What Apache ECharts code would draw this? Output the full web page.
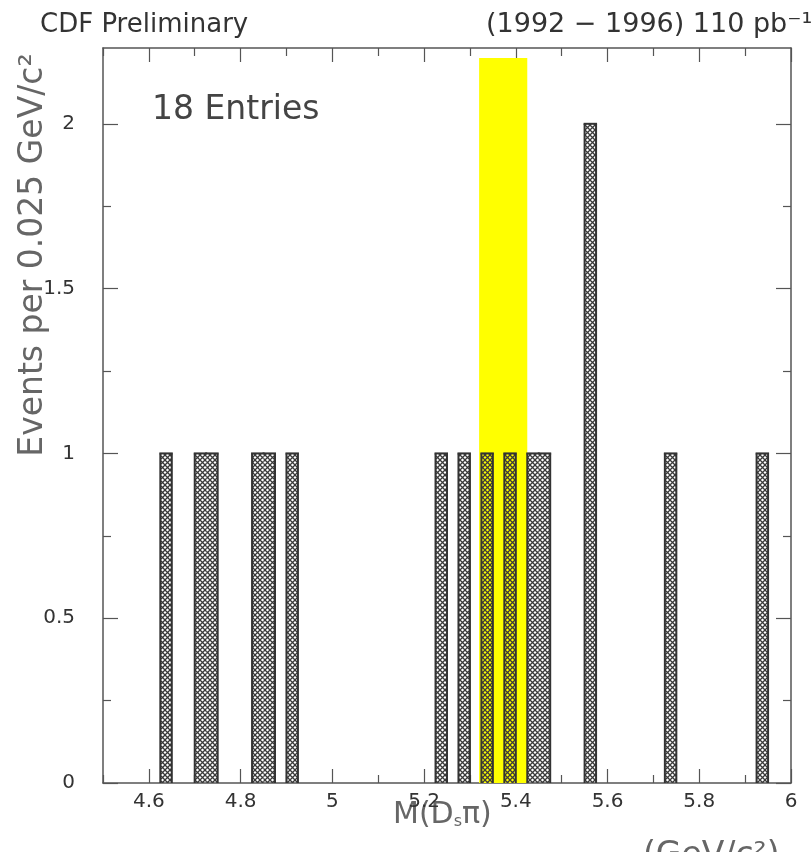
<!DOCTYPE html>
<html>
<head>
<meta charset="utf-8">
<script src="https://cdn.jsdelivr.net/npm/echarts@6/dist/echarts.min.js"></script>
<style>
  html, body { margin: 0; padding: 0; background: #fff; }
  #chart { width: 811px; height: 852px; }
</style>
</head>
<body>
<div id="chart"></div>
<script>
// --- data ---
const binWidth = 0.025;
const binLow = [4.625, 4.700, 4.725, 4.825, 4.850, 4.900, 5.225, 5.275, 5.325, 5.375, 5.425, 5.450, 5.550, 5.725, 5.925];
const counts = [1, 1, 1, 1, 1, 1, 1, 1, 1, 1, 1, 1, 2, 1, 1];
const signalWindow = [5.32, 5.425];   // yellow band
const signalTop = 2.2;

const xMajor = [4.6, 4.8, 5.0, 5.2, 5.4, 5.6, 5.8, 6.0];
const xMinor = [4.5, 4.7, 4.9, 5.1, 5.3, 5.5, 5.7, 5.9];
const yMajor = [0, 0.5, 1, 1.5, 2];
const yMinor = [0.25, 0.75, 1.25, 1.75];

const FONT = '"DejaVu Sans", sans-serif';

// cross-hatch pattern (transparent background so the yellow band shows through)
function makeHatch() {
    const s = 5;
    const c = document.createElement('canvas');
    c.width = s; c.height = s;
    const ctx = c.getContext('2d');
    ctx.strokeStyle = '#3a3a3a';
    ctx.lineWidth = 1.3;
    ctx.beginPath();
    ctx.moveTo(-1, -1); ctx.lineTo(s + 1, s + 1);
    ctx.moveTo(-1, s + 1); ctx.lineTo(s + 1, -1);
    ctx.stroke();
    return c;
}
const hatch = makeHatch();

// lookup for neighbour bins (outline drawn like a histogram, not per bin)
const countByBin = {};
binLow.forEach((lo, i) => { countByBin[Math.round(lo / binWidth)] = counts[i]; });
function countAt(x) { return countByBin[Math.round(x / binWidth)] || 0; }

const histData = binLow.map((lo, i) => [lo, counts[i]]);

function fmt(v) { return String(+v.toFixed(1)); }

const chart = echarts.init(document.getElementById('chart'));

const axisLineStyle = { color: '#555', width: 1.5 };
function xAxisDef(pos, ticks, len, showLine, showLabel) {
    return {
        type: 'value', position: pos, min: 4.5, max: 6,
        axisLine: { show: showLine, onZero: false, lineStyle: axisLineStyle },
        axisTick: { show: true, inside: true, length: len, customValues: ticks, lineStyle: { color: '#555', width: 1.2 } },
        axisLabel: showLabel ? { show: true, customValues: ticks, formatter: fmt, margin: 9, fontSize: 20, fontFamily: FONT, color: '#333' } : { show: false },
        splitLine: { show: false }
    };
}
function yAxisDef(pos, ticks, len, showLine, showLabel) {
    return {
        type: 'value', position: pos, min: 0, max: 2.23,
        axisLine: { show: showLine, onZero: false, lineStyle: axisLineStyle },
        axisTick: { show: true, inside: true, length: len, customValues: ticks, lineStyle: { color: '#555', width: 1.2 } },
        axisLabel: showLabel ? { show: true, customValues: ticks, formatter: v => String(v), margin: 28, fontSize: 20, fontFamily: FONT, color: '#333' } : { show: false },
        splitLine: { show: false }
    };
}

chart.setOption({
    animation: false,
    backgroundColor: '#fff',
    grid: { left: 103, right: 20, top: 48, bottom: 69 },
    xAxis: [
        xAxisDef('bottom', xMajor, 14, true, true),
        xAxisDef('bottom', xMinor, 8, false, false),
        xAxisDef('top', xMajor, 14, true, false),
        xAxisDef('top', xMinor, 8, false, false)
    ],
    yAxis: [
        yAxisDef('left', yMajor, 15, true, true),
        yAxisDef('left', yMinor, 8, false, false),
        yAxisDef('right', yMajor, 15, true, false),
        yAxisDef('right', yMinor, 8, false, false)
    ],
    series: [
        {
            // signal window
            type: 'custom', z: 1,
            data: [[signalWindow[0], signalWindow[1], signalTop]],
            renderItem: function (params, api) {
                const a = api.coord([api.value(0), 0]);
                const b = api.coord([api.value(1), api.value(2)]);
                return { type: 'rect', shape: { x: a[0], y: b[1], width: b[0] - a[0], height: a[1] - b[1] }, style: { fill: '#ffff00' } };
            }
        },
        {
            type: 'custom', z: 2,
            data: histData,
            renderItem: function (params, api) {
                const lo = api.value(0), n = api.value(1), hi = lo + binWidth;
                const p0 = api.coord([lo, 0]);
                const p1 = api.coord([hi, n]);
                const prev = countAt(lo - binWidth), next = countAt(hi);
                const lineStyle = { stroke: '#333', lineWidth: 2, fill: null };
                const kids = [
                    { type: 'rect', shape: { x: p0[0], y: p1[1], width: p1[0] - p0[0], height: p0[1] - p1[1] },
                      style: { fill: { image: hatch, repeat: 'repeat' } } },
                    { type: 'line', shape: { x1: p0[0] - 1, y1: p1[1], x2: p1[0] + 1, y2: p1[1] }, style: lineStyle }
                ];
                if (n > prev) {
                    const yp = api.coord([lo, prev])[1];
                    kids.push({ type: 'line', shape: { x1: p0[0], y1: yp, x2: p0[0], y2: p1[1] }, style: lineStyle });
                }
                if (n > next) {
                    const yn = api.coord([hi, next])[1];
                    kids.push({ type: 'line', shape: { x1: p1[0], y1: yn, x2: p1[0], y2: p1[1] }, style: lineStyle });
                }
                return { type: 'group', children: kids };
            }
        }
    ],
    graphic: [
        { type: 'text', left: 40, top: 12, style: { text: 'CDF Preliminary', font: '26px ' + FONT, fill: '#333' } },
        { type: 'text', left: 486, top: 11, style: { text: '(1992 − 1996) 110 pb⁻¹', font: '27px ' + FONT, fill: '#333' } },
        { type: 'text', left: 152, top: 94, style: { text: '18 Entries', font: '33px ' + FONT, fill: '#444' } },
        { type: 'text', x: 33, y: 255, rotation: Math.PI / 2,
          style: { text: 'Events per 0.025 GeV/c²', font: '33px ' + FONT, fill: '#666', align: 'center', verticalAlign: 'middle' } },
        { type: 'text', left: 393, top: 800,
          style: { text: 'M(D{s|s}π)', font: '30px ' + FONT, fill: '#666',
                   rich: { s: { fontSize: 16, fontFamily: FONT, fill: '#666', verticalAlign: 'bottom' } } } },
        { type: 'text', left: 643, top: 840, style: { text: '(GeV/c²)', font: '33px ' + FONT, fill: '#666' } }
    ]
});
</script>
</body>
</html>
